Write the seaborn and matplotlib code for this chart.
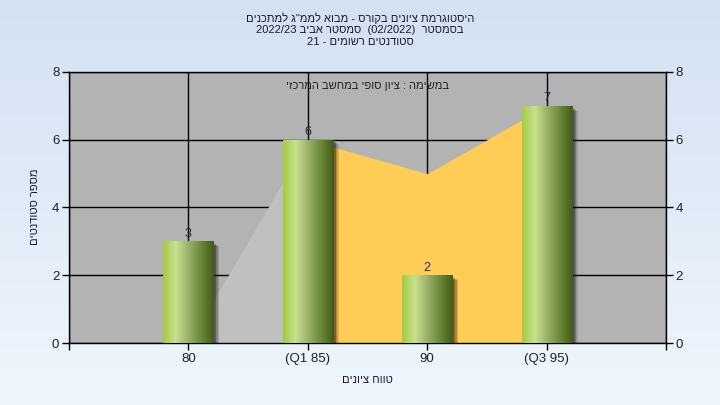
import re
import numpy as np
import matplotlib
matplotlib.use('Agg')
import matplotlib.pyplot as plt
import matplotlib.transforms as mtransforms
from matplotlib.colors import LinearSegmentedColormap
from matplotlib.patches import Rectangle
import seaborn as sns

sns.set_style('white')
plt.rcParams['font.family'] = ['Liberation Sans', 'DejaVu Sans']

# data
categories = ['80', '(Q1 85)', '90', '(Q3 95)']
students = [3, 6, 2, 7]
area_values = [0, 6, 5, 7]          # background area behind the bars
title_lines = ['היסטוגרמת ציונים בקורס - מבוא לממ"ג למתכנים',
               'בסמסטר  (02/2022)  סמסטר אביב 2022/23',
               'סטודנטים רשומים - 21']
note = 'במשימה : ציון סופי במחשב המרכזי'
x_title = 'טווח ציונים'
y_title = 'מספר סטודנטים'
y_ticks = [0, 2, 4, 6, 8]


def rtl(s):
    # matplotlib has no bidi: reverse hebrew, keep number runs, mirror parens
    r = s[::-1]
    r = re.sub(r'[0-9A-Za-z/]+', lambda m: m.group(0)[::-1], r)
    return r.translate(str.maketrans('()', ')('))


fig = plt.figure(figsize=(7.2, 4.05), dpi=100)

# light blue gradient background
bg = fig.add_axes([0, 0, 1, 1], zorder=-10)
grad = np.linspace(0, 1, 256)[:, None]
bg.imshow(grad, aspect='auto', extent=[0, 1, 0, 1],
          cmap=LinearSegmentedColormap.from_list('bg', ['#d3e1f3', '#eff6fd']))
bg.set_axis_off()

ax = fig.add_axes([69 / 720, 1 - 343 / 405, 597 / 720, 271 / 405])
ax.set_facecolor('#b3b3b3')

pos = np.arange(len(categories))
ax.fill_between(pos[:2], area_values[:2], color='#c0c0c0', lw=0, zorder=1)
ax.fill_between(pos[1:], area_values[1:], color='#ffcc55', lw=0, zorder=1)

sns.barplot(x=categories, y=students, width=0.42, ax=ax, zorder=3,
            color='#9bbf4a', linewidth=0)

bar_cmap = LinearSegmentedColormap.from_list(
    'bar', [(0, '#a2cb40'), (0.25, '#c8e190'), (0.55, '#8fa85e'),
            (0.8, '#62802f'), (1, '#43591b')])
for p in list(ax.patches):
    x0, y0 = p.get_x(), p.get_y()
    w, h = p.get_width(), p.get_height()
    # soft drop shadow
    for k, a in enumerate([0.15, 0.2, 0.3]):
        tr = mtransforms.offset_copy(ax.transData, fig=fig, x=6 - 1.5 * k, y=-4 + k, units='dots')
        ax.add_patch(Rectangle((x0, y0 - 0.02), w, h, color='black', alpha=a, lw=0,
                               transform=tr, zorder=2))
    im = ax.imshow(np.linspace(0, 1, 256)[None, :], cmap=bar_cmap, aspect='auto',
                   extent=[x0, x0 + w, y0, y0 + h], zorder=3, interpolation='bilinear')
    im.set_clip_path(p)
    p.set_facecolor('none')

ax.bar_label(ax.containers[0], padding=1, fontsize=9, color='#1d2b45', zorder=4)

ax.set_xlim(-1, 4)
ax.set_ylim(0, 8)
ax.set_xticks([-1, 0, 1, 2, 3, 4], [''] + categories + [''])
ax.set_yticks(y_ticks)
ax.grid(True, color='black', lw=1, zorder=0)
ax.set_axisbelow(True)
for s in ax.spines.values():
    s.set_color('black')
    s.set_linewidth(1)
ax.tick_params(axis='both', direction='out', length=5, width=1, color='black',
               labelsize=9.5, labelcolor='#222222', pad=2)
ax.tick_params(axis='y', right=True, labelright=True, left=True)
ax.tick_params(axis='x', bottom=True)
ax.set_xlabel('')
ax.set_ylabel('')

ax.text(0.5, 0.95, rtl(note), transform=ax.transAxes, ha='center', va='center',
        fontsize=8, color='#222222', zorder=5)

for i, line in enumerate(title_lines):
    fig.text(0.5, 1 - (18 + 12 * i) / 405, rtl(line), ha='center', va='center',
             fontsize=8, color='#1a1a33')
fig.text(367 / 720, 1 - 380 / 405, rtl(x_title), ha='center', va='center',
         fontsize=8, color='#1a1a33')
fig.text(35 / 720, 1 - 207 / 405, rtl(y_title), ha='center', va='center',
         rotation=90, fontsize=8, color='#1a1a33')

fig.savefig('out.png', dpi=100)
